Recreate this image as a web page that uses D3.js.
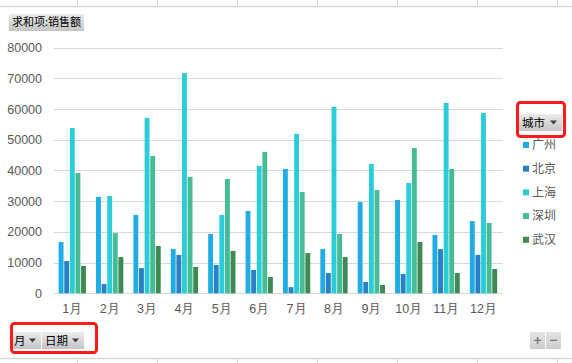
<!DOCTYPE html>
<html>
<head>
<meta charset="utf-8">
<script src="https://cdn.jsdelivr.net/npm/d3@7"></script>
<style>
  body { margin: 0; background: #fff; }
  svg { display: block; font-family: "Noto Sans CJK SC", "Microsoft YaHei", sans-serif; }
</style>
</head>
<body>
<div id="chart"></div>
<script>
// Pivot chart: sales per month and city
const months = ["1月", "2月", "3月", "4月", "5月", "6月", "7月", "8月", "9月", "10月", "11月", "12月"];
const cities = ["广州", "北京", "上海", "深圳", "武汉"];
const guangzhou = [16700, 31400, 25500, 14400, 19300, 26800, 40500, 14400, 29700, 30400, 19000, 23500];
const beijing   = [10500, 3000, 8200, 12500, 9200, 7600, 2000, 6600, 3700, 6300, 14400, 12500];
const shanghai  = [53800, 31700, 57100, 71700, 25500, 41500, 51900, 60700, 42100, 35900, 62000, 58700];
const shenzhen  = [39200, 19600, 44700, 37900, 37200, 46000, 33000, 19300, 33600, 47300, 40500, 22900];
const wuhan     = [8900, 11800, 15400, 8600, 13800, 5300, 13100, 11800, 2700, 16700, 6600, 7900];
const yTicks = [0, 10000, 20000, 30000, 40000, 50000, 60000, 70000, 80000];
const colors = ["#1fade3", "#2a80c4", "#2accd8", "#45bc95", "#3e8a53"];

const series = [guangzhou, beijing, shanghai, shenzhen, wuhan];
const W = 572, H = 363;

const svg = d3.select("#chart").append("svg")
    .attr("width", W)
    .attr("height", H);

const defs = svg.append("defs");
const grad = defs.append("linearGradient").attr("id", "btn").attr("x1", 0).attr("y1", 0).attr("x2", 0).attr("y2", 1);
grad.append("stop").attr("offset", "0%").attr("stop-color", "#ececec");
grad.append("stop").attr("offset", "100%").attr("stop-color", "#c4c4c4");
const grad2 = defs.append("linearGradient").attr("id", "btn2").attr("x1", 0).attr("y1", 0).attr("x2", 0).attr("y2", 1);
grad2.append("stop").attr("offset", "0%").attr("stop-color", "#e4e4e4");
grad2.append("stop").attr("offset", "100%").attr("stop-color", "#cdcdcd");

// spreadsheet cell lines around the chart
const cellX = [77, 157, 237, 317, 397, 477, 557];
svg.append("line").attr("x1", 0).attr("x2", W).attr("y1", 6.5).attr("y2", 6.5)
    .attr("stroke", "#d6d6d6").attr("stroke-width", 1.5);
svg.append("line").attr("x1", 0).attr("x2", W).attr("y1", 358.5).attr("y2", 358.5)
    .attr("stroke", "#d6d6d6").attr("stroke-width", 1.5);
svg.selectAll(".cell-top").data(cellX).enter().append("line")
    .attr("x1", d => d + 0.5).attr("x2", d => d + 0.5).attr("y1", 0).attr("y2", 6)
    .attr("stroke", "#d6d6d6");
svg.selectAll(".cell-bot").data(cellX).enter().append("line")
    .attr("x1", d => d + 0.5).attr("x2", d => d + 0.5).attr("y1", 359).attr("y2", H)
    .attr("stroke", "#d6d6d6");

const y = d3.scaleLinear().domain([0, 80000]).range([293.3, 47.6]);
const x = d3.scaleBand().domain(months).range([53.6, 502.2]).paddingInner(0.27).paddingOuter(0.135);
const xs = d3.scaleBand().domain(cities).range([0, x.bandwidth()]).paddingInner(0.13);

// gridlines
svg.append("g")
    .selectAll("line")
    .data(yTicks)
    .enter()
    .append("line")
    .attr("x1", 54).attr("x2", 503)
    .attr("y1", d => Math.round(y(d)) + 0.5)
    .attr("y2", d => Math.round(y(d)) + 0.5)
    .attr("stroke", "#d9d9d9")
    .attr("stroke-width", 1.2);

// y axis labels
const yAxis = svg.append("g")
    .attr("transform", "translate(42,0)")
    .call(d3.axisLeft(y).tickValues(yTicks).tickSize(0).tickPadding(0).tickFormat(d => d));
yAxis.select(".domain").remove();
yAxis.selectAll("text").attr("fill", "#595959").style("font-size", "12.5px").style("font-family", "inherit");

// x axis labels
const xAxis = svg.append("g")
    .attr("transform", "translate(0,293)")
    .call(d3.axisBottom(x).tickSize(0).tickPadding(11));
xAxis.select(".domain").remove();
xAxis.selectAll("text").attr("fill", "#595959").style("font-size", "12.5px").style("font-family", "inherit");

// bars
const groups = svg.append("g")
    .selectAll("g")
    .data(months)
    .enter()
    .append("g")
    .attr("transform", d => `translate(${x(d)},0)`);

groups.selectAll("rect")
    .data((m, i) => cities.map((c, j) => ({ city: c, value: series[j][i], idx: j })))
    .enter()
    .append("rect")
    .attr("x", d => xs(d.city))
    .attr("y", d => y(d.value))
    .attr("width", xs.bandwidth())
    .attr("height", d => y(0) - y(d.value))
    .attr("fill", d => colors[d.idx]);

// field buttons
function button(x0, y0, w, h, label, arrow, fontSize) {
    const g = svg.append("g").attr("transform", `translate(${x0},${y0})`);
    g.append("rect").attr("width", w).attr("height", h).attr("fill", "url(#btn)");
    g.append("text")
        .attr("x", 3).attr("y", h / 2).attr("dy", "0.36em")
        .style("font-size", fontSize + "px")
        .attr("fill", "#000")
        .text(label);
    if (arrow) {
        g.append("path")
            .attr("d", `M${w - 12},${h / 2 - 2} h7 l-3.5,4 z`)
            .attr("fill", "#404040");
    }
    return g;
}

button(9, 14, 75, 17, "求和项:销售额", false, 11);
button(519, 114, 43, 17, "城市", true, 11.5);
button(11, 332, 30, 17, "月", true, 11.5);
button(42, 332, 42, 17, "日期", true, 11.5);

// red highlight frames
svg.append("rect").attr("x", 517.5).attr("y", 102.5).attr("width", 47).attr("height", 34).attr("rx", 3)
    .attr("fill", "none").attr("stroke", "#ff1a1a").attr("stroke-width", 3);
svg.append("rect").attr("x", 11.5).attr("y", 323.5).attr("width", 85).attr("height", 29).attr("rx", 3)
    .attr("fill", "none").attr("stroke", "#ff1a1a").attr("stroke-width", 3);

// legend
const legend = svg.append("g")
    .selectAll("g")
    .data(cities)
    .enter()
    .append("g")
    .attr("transform", (d, i) => `translate(523,${145 + i * 23.7})`);
legend.append("rect").attr("x", 0).attr("y", -3).attr("width", 6).attr("height", 6)
    .attr("fill", (d, i) => colors[i]);
legend.append("text").attr("x", 9).attr("dy", "0.36em")
    .style("font-size", "12px").attr("fill", "#595959")
    .text(d => d);

// expand / collapse buttons
[["+", 530], ["−", 546]].forEach(([s, bx]) => {
    const g = svg.append("g").attr("transform", `translate(${bx},332)`);
    g.append("rect").attr("width", 15).attr("height", 17).attr("fill", "url(#btn2)");
    g.append("text").attr("x", 7.5).attr("y", 8.5).attr("dy", "0.36em")
        .attr("text-anchor", "middle").style("font-size", "13px").style("font-weight", "bold")
        .attr("fill", "#7a7a7a").text(s);
});
</script>
</body>
</html>
